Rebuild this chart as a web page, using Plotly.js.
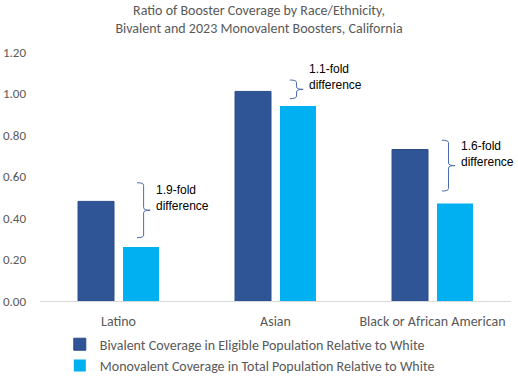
<!DOCTYPE html>
<html><head><meta charset="utf-8">
<script src="https://cdn.plot.ly/plotly-3.0.1.min.js"></script>
<style>html,body{margin:0;padding:0;background:#fff}</style>
</head><body>
<div id="chart" style="width:518px;height:376px"></div>
<script>
const categories = ["Latino", "Asian", "Black or African American"];
const seriesNames = ["Bivalent Coverage in Eligible Population Relative to White",
                     "Monovalent Coverage in Total Population Relative to White"];
const bivalent = [0.48, 1.01, 0.73];
const monovalent = [0.26, 0.94, 0.47];
const tickVals = [0, 0.2, 0.4, 0.6, 0.8, 1.0, 1.2];
const tickText = ["0.00", "0.20", "0.40", "0.60", "0.80", "1.00", "1.20"];
const braceLabels = ["1.9-fold<br>difference", "1.1-fold<br>difference", "1.6-fold<br>difference"];
const braceTop = [0.57, 1.065, 0.775];
const braceBottom = [0.305, 0.975, 0.53];
const braceOffset = [0.118, 0.092, 0.06]; // fraction of category width from centre

const colors = ["#2F5597", "#00B0F0"];
const traces = [
  {type:"bar", name:seriesNames[0], x:categories, y:bivalent, marker:{color:colors[0], line:{color:"#2A4C8A", width:1}}},
  {type:"bar", name:seriesNames[1], x:categories, y:monovalent, marker:{color:colors[1]}}
];

const shapes = [];
const annotations = [];
const n = categories.length;
for (let i = 0; i < n; i++) {
  const xc = (i + 0.5) / n;
  const x0 = xc + braceOffset[i] / n;
  const w = 0.028;
  const xm = x0 + w/2, x1 = x0 + w;
  const yt = braceTop[i], yb = braceBottom[i];
  const ym = (yt + yb) / 2;
  const c = 0.012;
  shapes.push({type:"path", xref:"paper", yref:"y",
    path:`M${x0},${yt} Q${xm},${yt} ${xm},${yt-c} L${xm},${ym+c} Q${xm},${ym} ${x1},${ym} Q${xm},${ym} ${xm},${ym-c} L${xm},${yb+c} Q${xm},${yb} ${x0},${yb}`,
    line:{color:"#4A6BB0", width:1}});
  annotations.push({xref:"paper", yref:"y", x:x1 + 0.008, y:ym + 0.058, xanchor:"left", yanchor:"middle",
    text:braceLabels[i], showarrow:false, align:"left",
    font:{family:"Liberation Sans, Arial, sans-serif", size:12, color:"#000"}});
}

const layout = {
  width:518, height:376,
  margin:{l:40, r:7, t:52, b:75},
  paper_bgcolor:"#fff", plot_bgcolor:"#fff",
  title:{text:"Ratio of Booster Coverage by Race/Ethnicity,<br>Bivalent and 2023 Monovalent Boosters, California",
    font:{family:"Carlito, Lato, sans-serif", size:14, color:"#595959"}, x:0.5, xanchor:"center", y:0.961, yanchor:"top"},
  font:{family:"Carlito, Lato, sans-serif", size:13, color:"#595959"},
  barmode:"group", bargap:0.427, bargroupgap:0.2,
  xaxis:{type:"category", showline:true, linecolor:"#D9D9D9", linewidth:1, ticks:"", showgrid:false,
    tickfont:{size:14, color:"#595959"}, ticklabelstandoff:7, fixedrange:true, automargin:false},
  yaxis:{range:[0,1.2], tickvals:tickVals, ticktext:tickText, showgrid:false, zeroline:false, showline:false,
    tickfont:{size:13, color:"#595959"}, ticklabelstandoff:13, automargin:false},
  showlegend:true,
  legend:{orientation:"v", x:0.042, xanchor:"left", yref:"container", y:0.126, yanchor:"top", font:{size:14, color:"#595959"},
    tracegroupgap:0, itemwidth:30, bgcolor:"rgba(0,0,0,0)"},
  shapes:shapes, annotations:annotations
};
Plotly.newPlot("chart", traces, layout, {displayModeBar:false, staticPlot:true});
</script>
</body></html>
